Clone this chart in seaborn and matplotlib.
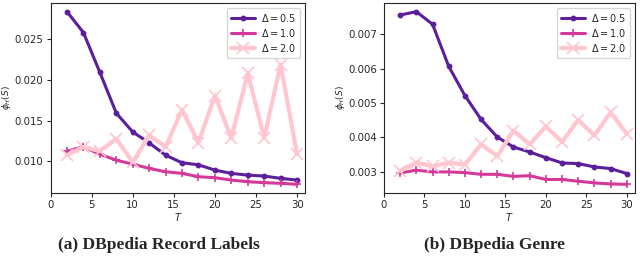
import matplotlib
matplotlib.use("Agg")
import matplotlib.pyplot as plt
import seaborn as sns
import numpy as np
import pandas as pd

sns.set_style("ticks")
plt.rcParams['font.family'] = ['DejaVu Sans']

# данные
T = [2, 4, 6, 8, 10, 12, 14, 16, 18, 20, 22, 24, 26, 28, 30]
labels = [r'$\Delta = 0.5$', r'$\Delta = 1.0$', r'$\Delta = 2.0$']

record_05 = [0.02837, 0.02581, 0.02093, 0.01593, 0.01362, 0.01228, 0.01077, 0.00984,
             0.00959, 0.00894, 0.00854, 0.00833, 0.00821, 0.00793, 0.00772]
record_10 = [0.01126, 0.01179, 0.01089, 0.01016, 0.00967, 0.00915, 0.00874, 0.00854,
             0.00813, 0.00801, 0.00772, 0.00752, 0.00740, 0.00732, 0.00720]
record_20 = [0.01077, 0.01179, 0.01126, 0.01280, 0.00988, 0.01321, 0.01179, 0.01634,
             0.01232, 0.01809, 0.01289, 0.02081, 0.01293, 0.02187, 0.01089]

genre_05 = [0.007559, 0.007655, 0.007289, 0.006065, 0.005217, 0.004523, 0.004012, 0.003723,
            0.003578, 0.003414, 0.003260, 0.003241, 0.003145, 0.003096, 0.002952]
genre_10 = [0.00297, 0.00305, 0.00300, 0.00300, 0.00298, 0.00293, 0.00293, 0.00287,
            0.00289, 0.00278, 0.00278, 0.00273, 0.00268, 0.00265, 0.00264]
genre_20 = [0.00303, 0.00327, 0.00316, 0.00327, 0.00321, 0.00380, 0.00346, 0.00420,
            0.00380, 0.00432, 0.00387, 0.00451, 0.00406, 0.00473, 0.00411]

colors = ['#5b1f9c', '#d4399a', '#ffc6d0']
markers = ['o', '+', 'x']
msizes = [3, 6, 8]
lwidths = [2.2, 2.2, 3.0]

fig = plt.figure(figsize=(6.4, 2.78), dpi=100)
ax1 = fig.add_axes([0.079, 0.306, 0.398, 0.683])
ax2 = fig.add_axes([0.600, 0.306, 0.392, 0.683])

panels = [(ax1, [record_05, record_10, record_20]),
          (ax2, [genre_05, genre_10, genre_20])]

for ax, series in panels:
    for vals, lab, c, m, ms, lw in zip(series, labels, colors, markers, msizes, lwidths):
        sns.lineplot(x=T, y=vals, ax=ax, color=c, marker=m, markersize=ms,
                     markeredgecolor=c, markeredgewidth=1.2, linewidth=lw, label=lab)
    ax.set_xlim(0, 31)
    ax.set_xticks([0, 5, 10, 15, 20, 25, 30])
    ax.tick_params(labelsize=7.3, length=3, pad=2)
    ax.set_xlabel(r'$T$', fontsize=7, labelpad=1)
    ax.set_ylabel(r'$\phi_H(S)$', fontsize=6.5, labelpad=1)
    ax.legend(loc='upper right', fontsize=7, handlelength=2.5, borderpad=0.4,
              labelspacing=0.3, handletextpad=0.6)

ax1.set_yticks([0.010, 0.015, 0.020, 0.025])
ax1.yaxis.set_major_formatter(matplotlib.ticker.FormatStrFormatter('%.3f'))
ax2.set_yticks([0.003, 0.004, 0.005, 0.006, 0.007])
ax2.yaxis.set_major_formatter(matplotlib.ticker.FormatStrFormatter('%.3f'))

fig.text(0.248, 0.119, '(a) DBpedia Record Labels', ha='center', va='center',
         fontsize=12.5, fontweight='bold', family='Liberation Serif')
fig.text(0.772, 0.119, '(b) DBpedia Genre', ha='center', va='center',
         fontsize=12.5, fontweight='bold', family='Liberation Serif')

fig.savefig('out.png', dpi=100)
